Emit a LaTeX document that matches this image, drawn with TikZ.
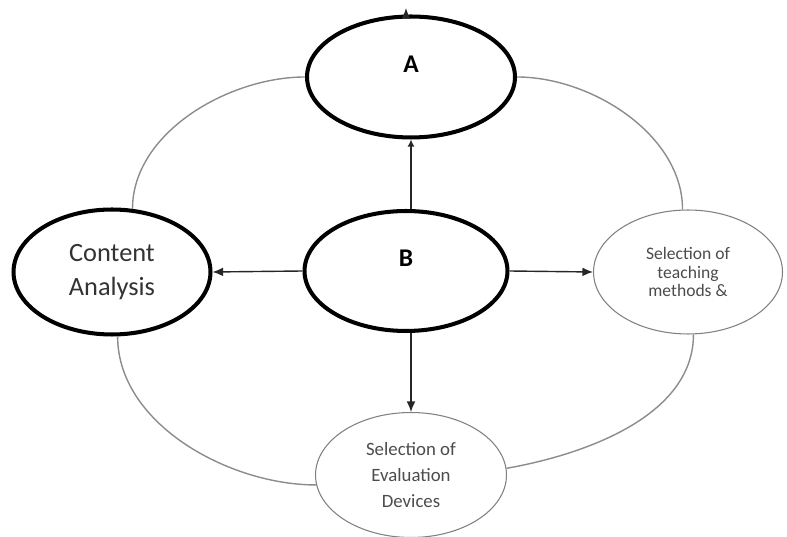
\documentclass[tikz,border=0pt]{standalone}
\usepackage{fontspec}
\setmainfont{Carlito}
\usetikzlibrary{shapes.geometric, arrows.meta}

\begin{document}
\begin{tikzpicture}[x = 0.02cm, y = 0.02cm, line width = 0.8pt,
                        heavy/.style = {ellipse, draw = black, line width = 2.3pt, fill = white, inner sep = 0pt, align = center},
                        light/.style = {ellipse, draw = black!50, line width = 0.6pt, fill = white, inner sep = 0pt, align = center, text = black!70},
                        ring/.style = {draw = black!45, line width = 0.8pt, looseness = 0.9},
                        link/.style = {draw = black!85, -{Latex[length = 6pt, width = 5pt]}}]
      \useasboundingbox (0, 0) rectangle (787, 537);

      \node [heavy, minimum width = 4.16cm, minimum height = 2.42cm,
             label = {[font = \fontsize{14.5}{16}\selectfont\bfseries, yshift = 7pt]center:A}] (a) at (411, 460){};
      \node [heavy, minimum width = 4.06cm, minimum height = 2.4cm,
             label = {[font = \fontsize{14.5}{16}\selectfont\bfseries, yshift = 7pt]center:B}] (b) at (406, 266){};
      \node [heavy, minimum width = 3.94cm, minimum height = 2.5cm, text = black!80,
             font = \fontsize{15}{19.8}\selectfont] (ca) at (112, 265){Content\\Analysis};
      \node [light, minimum width = 3.78cm, minimum height = 2.48cm,
             font = \fontsize{10}{10.5}\selectfont] (teach) at (688, 265){Selection of\\teaching\\methods \&};
      \node [light, minimum width = 3.82cm, minimum height = 2.5cm,
             font = \fontsize{10.7}{14.6}\selectfont] (eval) at (411, 62){Selection of\\Evaluation\\Devices};
      \coordinate (atip) at (406, 529);

      % outer ring
      \draw [ring] (a.west) to [out = 180, in = 90] (ca.72);
      \draw [ring] (a.east) to [out = 0, in = 90] (teach.95);
      \draw [ring] (ca.-85) to [out = -90, in = 180] (eval.186);
      \draw [ring] (teach.-85) to [out = -90, in = 10] (eval.4);

      % arrows out of B
      \draw [link] (b.west) -- (ca.east);
      \draw [link] (b.east) -- (teach.west);
      \draw [link] (eval |- b.south) -- (eval.north);
      \draw [link, -{Latex[length = 4pt, width = 4pt]}] (a |- b.north) -- (a.south);
      \draw [link] (a.north -| atip) -- (atip);

      \end{tikzpicture}
\end{document}
